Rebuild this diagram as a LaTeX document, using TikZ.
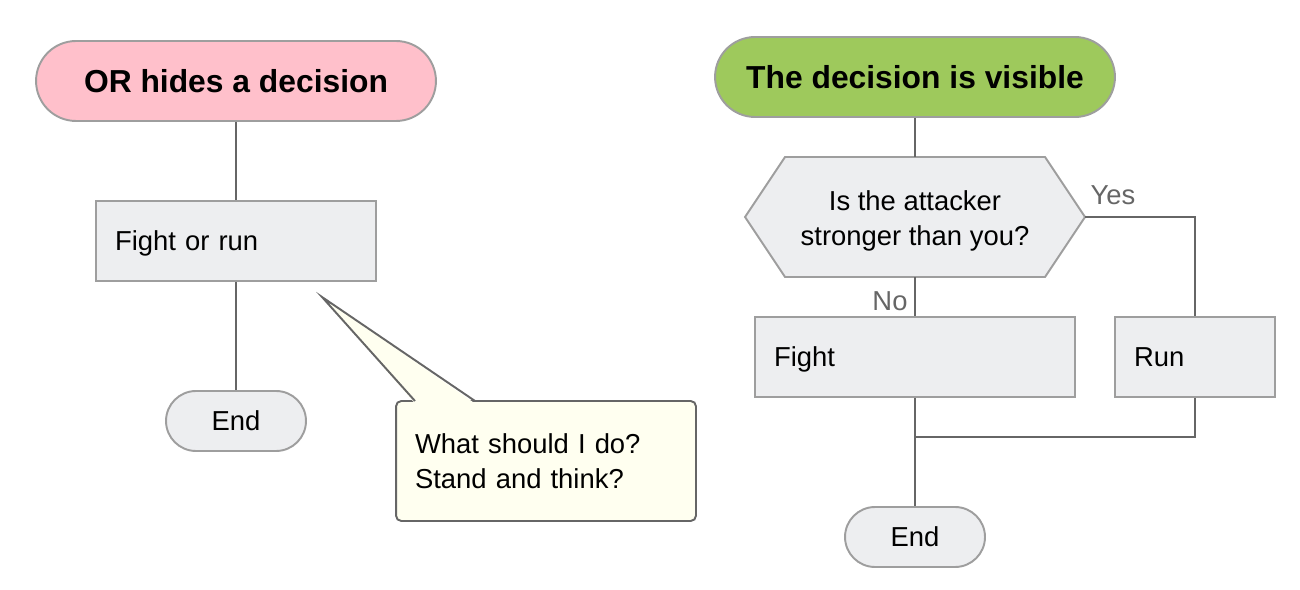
\documentclass[tikz,border=0pt]{standalone}
\usepackage{fontspec}
\setmainfont{Liberation Sans}

\definecolor{pinkfill}{RGB}{255,192,203}
\definecolor{greenfill}{RGB}{158,201,92}
\definecolor{boxfill}{RGB}{237,238,240}
\definecolor{boxline}{RGB}{158,158,158}
\definecolor{linkline}{RGB}{102,102,102}
\definecolor{notefill}{RGB}{255,255,240}

\tikzset{
	base/.style={draw=boxline, line width=1.1pt, fill=boxfill, inner sep=0pt,
		font=\fontsize{15.6}{20}\selectfont},
	headpill/.style={base, rounded corners=0.8cm, minimum width=8cm, minimum height=1.6cm,
		font=\fontsize{18.1}{22}\selectfont\bfseries},
	proc/.style={base, minimum height=1.6cm, inner xsep=0.38cm, align=left,
		text height=12.6pt, text depth=1.4pt},
	term/.style={base, rounded corners=0.6cm, minimum width=2.8cm, minimum height=1.2cm},
	link/.style={draw=linkline, line width=1.1pt},
	answer/.style={text=linkline, font=\fontsize{15.6}{20}\selectfont},
}

\begin{document}
\begin{tikzpicture}[x=0.02cm, y=-0.02cm]
		\useasboundingbox (0,0) rectangle (1300,590);

		% left: the hidden decision
		\node[headpill, fill=pinkfill] (hides) at (236,81) {OR hides a decision};
		\node[proc, text width=4.84cm] (fightrun) at (236,241) {Fight or run};
		\node[term] (endl) at (236,421) {End};
		\draw[link] (hides) -- (fightrun);
		\draw[link] (fightrun) -- (endl);

		% speech bubble
		\node[base, draw=linkline, fill=notefill, rounded corners=3pt, minimum width=6cm,
			minimum height=2.4cm, inner xsep=0.38cm, text width=5.24cm, align=left]
			(note) at (546,461) {What should I do?\\Stand and think?};
		\coordinate (tip) at (322,297);
		\fill[notefill] (415,403.5) -- (tip) -- (475,403.5) -- cycle;
		\draw[link, line join=miter] (415,401) -- (tip) -- (475,401);

		% right: the visible decision
		\node[headpill, fill=greenfill] (visible) at (915,77) {The decision is visible};
		\filldraw[draw=boxline, fill=boxfill, line width=1.1pt]
			(745,217) -- (785,157) -- (1045,157) -- (1085,217)
			-- (1045,277) -- (785,277) -- cycle;
		\node[minimum width=6.8cm, minimum height=2.4cm, inner sep=0pt, align=center,
			font=\fontsize{15.6}{20}\selectfont] (ask) at (915,217)
			{\raisebox{-5.6pt}[0pt][0pt]{\parbox{6cm}{\centering Is the attacker\\stronger than you?}}};
		\node[proc, text width=5.64cm] (fight) at (915,357) {Fight};
		\node[proc, text width=2.44cm] (run) at (1195,357) {Run};
		\node[term] (endr) at (915,537) {End};
		\coordinate (merge) at (915,437);

		\draw[link] (visible) -- (ask);
		\draw[link] (ask.east) -| (run);
		\draw[link] (ask) -- (fight);
		\draw[link] (fight) -- (endr);
		\draw[link] (run) |- (merge);
		\node[answer] (yes) at (1113,195) {Yes};
		\node[answer] (no) at (890,301) {No};
	\end{tikzpicture}
\end{document}
